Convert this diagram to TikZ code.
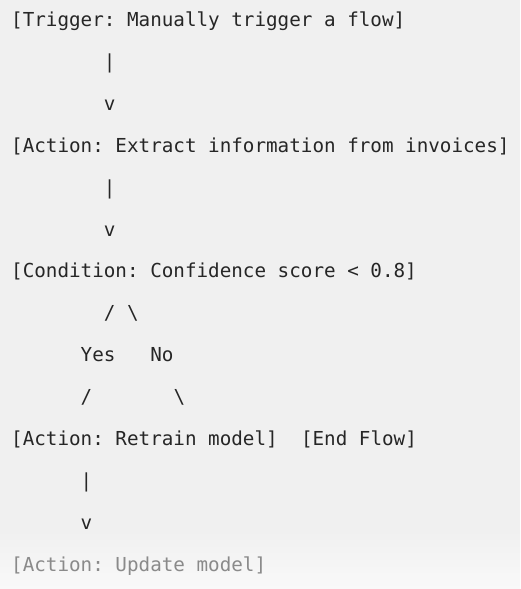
\documentclass[tikz,border=0pt]{standalone}
\usepackage{fontspec}
\setmonofont{DejaVu Sans Mono}
\usepackage{xcolor}
\definecolor{paper}{HTML}{F0F0F0}
\definecolor{paperlow}{HTML}{F9F9F9}
\definecolor{ink}{HTML}{262626}
\definecolor{fadeink}{HTML}{8A8A8A}

\begin{document}
\begin{tikzpicture}[x=1pt,y=-1pt,
    row/.style={anchor=base west, inner sep=0pt, text=ink,
      font=\ttfamily\fontsize{19.25}{22}\selectfont}]
      \useasboundingbox (0,0) rectangle (520,589);
      \fill[paper] (0,0) rectangle (520,589);
      \shade[top color=paper, bottom color=paperlow] (0,530) rectangle (520,589);
      % first block
      \node[row] (trig) at (11,26.5) {[Trigger: Manually trigger a flow]};
      \node[row] (bar1) at (103.7,68.4) {|};
      \node[row] (v1) at (103.7,110.3) {v};
      \node[row] (extract) at (11,152.2) {[Action: Extract information from invoices]};
      \node[row] (bar2) at (103.7,194.1) {|};
      \node[row] (v2) at (103.7,236.0) {v};
      \node[row] (cond) at (11,277.9) {[Condition: Confidence score < 0.8]};
      % the split
      \node[row] (split) at (103.7,319.8) {/ \textbackslash};
      \node[row] (yes) at (80.5,361.7) {Yes};
      \node[row] (no) at (150.1,361.7) {No};
      \node[row] (lslash) at (80.5,403.6) {/};
      \node[row] (rslash) at (173.3,403.6) {\textbackslash};
      \node[row] (retrain) at (11,445.5) {[Action: Retrain model]};
      \node[row] (endflow) at (300.8,445.5) {[End Flow]};
      \node[row] (bar3) at (80.5,487.4) {|};
      \node[row] (v3) at (80.5,529.3) {v};
      \node[row, text=fadeink] (update) at (11,571.2) {[Action: Update model]};
\end{tikzpicture}
\end{document}
